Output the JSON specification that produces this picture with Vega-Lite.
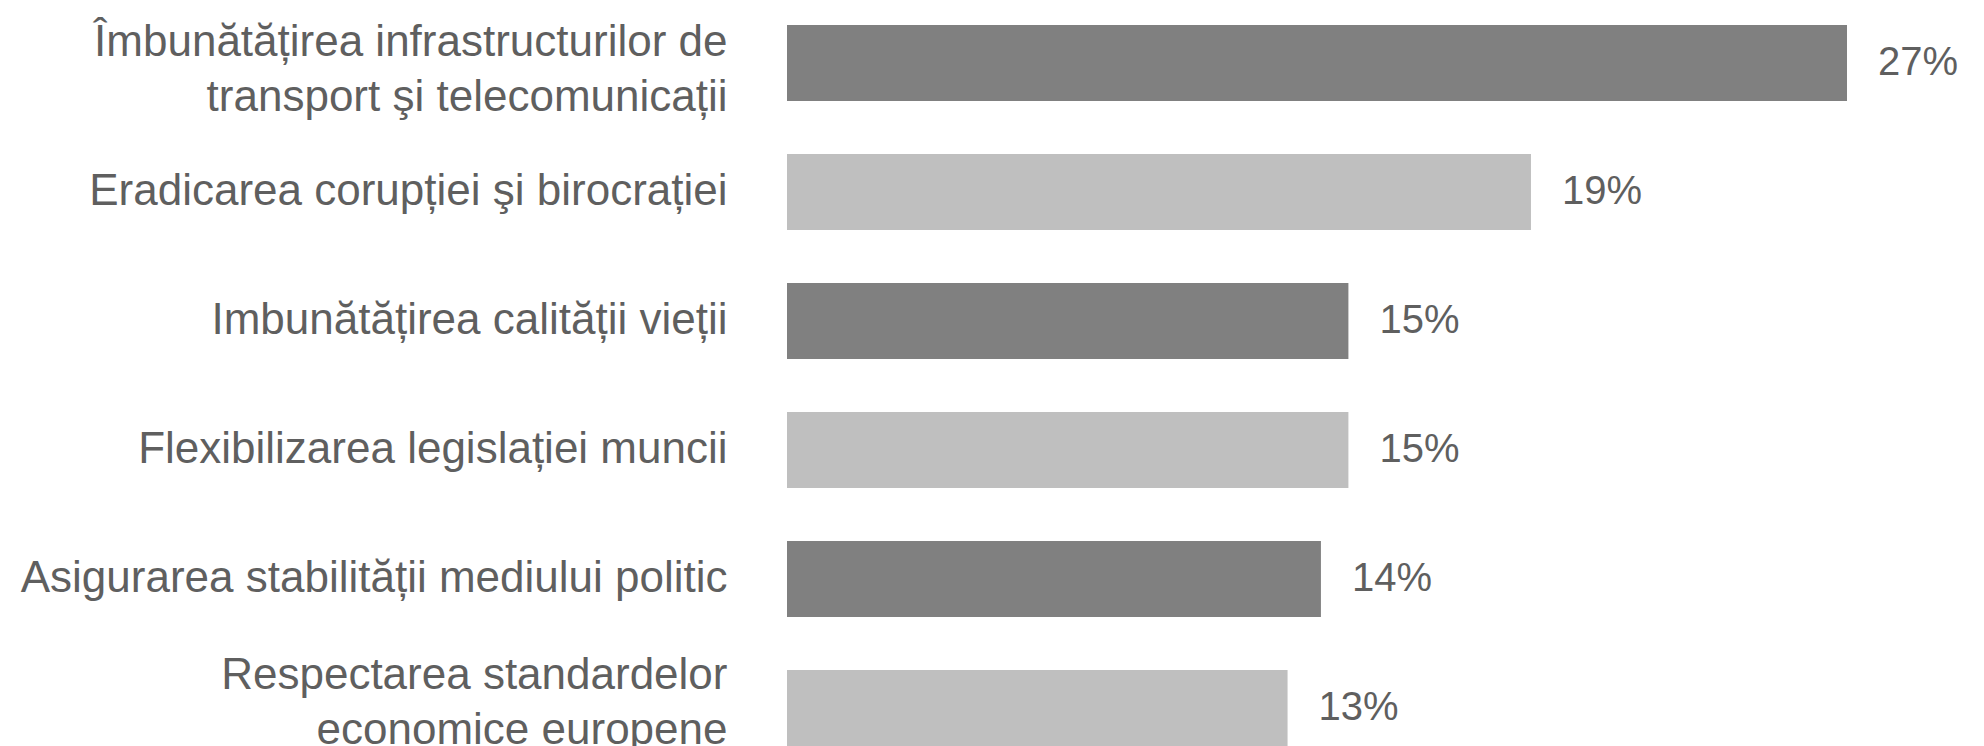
{
  "$schema": "https://vega.github.io/schema/vega-lite/v6.json",
  "autosize": {"type": "none"},
  "padding": {"left": 787, "top": 25, "right": 137, "bottom": 0},
  "width": 1060,
  "height": 721,
  "background": "white",
  "config": {"view": {"stroke": null}, "font": "Liberation Sans"},
  "data": {
    "values": [
      {"item": "Îmbunătățirea infrastructurilor de|transport şi telecomunicații", "value": 27, "label": "27%"},
      {"item": "Eradicarea corupției şi birocrației", "value": 18.95, "label": "19%"},
      {"item": "Imbunătățirea calității vieții", "value": 14.3, "label": "15%"},
      {"item": "Flexibilizarea legislației muncii", "value": 14.3, "label": "15%"},
      {"item": "Asigurarea stabilității mediului politic", "value": 13.6, "label": "14%"},
      {"item": "Respectarea standardelor|economice europene", "value": 12.75, "label": "13%"}
    ]
  },
  "encoding": {
    "y": {
      "field": "item",
      "type": "nominal",
      "sort": null,
      "scale": {"paddingInner": 0.41, "paddingOuter": 0},
      "axis": {
        "title": null,
        "domain": false,
        "ticks": false,
        "labelPadding": 60,
        "labelFontSize": 44,
        "labelColor": "#5f5f5f",
        "labelLimit": 0,
        "labelLineHeight": 55,
        "labelOffset": {
          "condition": [
            {"test": "indexof(datum.label, 'Îmbun') == 0", "value": -20},
            {"test": "indexof(datum.label, 'Respect') == 0", "value": -32}
          ],
          "value": 0
        },
        "labelExpr": "split(datum.label, '|')"
      }
    },
    "x": {
      "field": "value",
      "type": "quantitative",
      "scale": {"domain": [0, 27], "nice": false},
      "axis": null
    }
  },
  "layer": [
    {
      "mark": {"type": "bar"},
      "encoding": {
        "color": {
          "field": "item",
          "type": "nominal",
          "sort": null,
          "scale": {"range": ["#808080", "#BFBFBF"]},
          "legend": null
        }
      }
    },
    {
      "mark": {"type": "text", "align": "left", "baseline": "middle", "dx": 31, "fontSize": 40, "color": "#5f5f5f"},
      "encoding": {"text": {"field": "label"}}
    }
  ]
}
